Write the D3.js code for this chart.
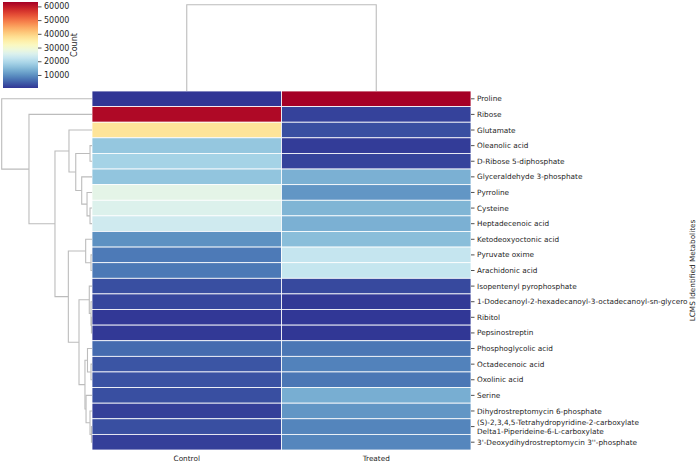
<!DOCTYPE html>
<html><head><meta charset="utf-8">
<script src="https://cdn.jsdelivr.net/npm/d3@7"></script>
<style>body{margin:0;background:#fff}svg{display:block;font-family:"DejaVu Sans",sans-serif}</style>
</head><body><svg id="c" width="700" height="464"></svg>
<script>
const columns = ["Control","Treated"];
const rowLabels = ["Proline","Ribose","Glutamate","Oleanolic acid","D-Ribose 5-diphosphate","Glyceraldehyde 3-phosphate","Pyrroline","Cysteine","Heptadecenoic acid","Ketodeoxyoctonic acid","Pyruvate oxime","Arachidonic acid","Isopentenyl pyrophosphate","1-Dodecanoyl-2-hexadecanoyl-3-octadecanoyl-sn-glycero","Ribitol","Pepsinostreptin","Phosphoglycolic acid","Octadecenoic acid","Oxolinic acid","Serine","Dihydrostreptomycin 6-phosphate","(S)-2,3,4,5-Tetrahydropyridine-2-carboxylate\nDelta1-Piperideine-6-L-carboxylate","3'-Deoxydihydrostreptomycin 3''-phosphate"];
const controlValues = [500,62000,36900,16800,18700,16500,26800,25600,23700,9900,7400,7300,3000,2100,700,800,5800,3600,3300,3000,1400,3000,1400];
const treatedValues = [63200,1700,3000,1100,1750,13700,10500,14300,13700,15500,22400,22500,2400,800,620,560,7100,8300,7100,13400,10500,8600,8700];
const colorbarTicks = [10000,20000,30000,40000,50000,60000];
// row dendrogram: [height, left, right]; leaves are row indices
const rowTree = [1.0, 0, [0.698, 1, [0.41,
  [0.255, 2, [0.18, [0.022, 3, 4], [0.114, 5, [0.055, 6, [0.022, 7, 8]]]]],
  [0.262, [0.07, 9, [0.011, 10, 11]],
    [0.144, [0.03, 12, [0.011, 13, [0.006, 14, 15]]],
      [0.078, [0.05, 16, [0.011, 17, 18]], [0.066, 19, [0.022, 20, [0.006, 21, 22]]]]]]]]];
const colTree = [1.0, 0, 1];

const svg = d3.select("#c");
const hm = {x0: 92, x1: 471, y0: 91, y1: 450};
const x = d3.scaleBand().domain(columns).range([hm.x0, hm.x1]);
const y = d3.scaleBand().domain(rowLabels).range([hm.y0, hm.y1]);
const all = controlValues.concat(treatedValues);
const vmin = d3.min(all), vmax = d3.max(all);
const color = d3.scaleSequential(t => d3.interpolateRdYlBu(1 - t)).domain([vmin, vmax]);

const cells = [];
rowLabels.forEach((r, i) => {
  cells.push({r, c: "Control", v: controlValues[i]});
  cells.push({r, c: "Treated", v: treatedValues[i]});
});
svg.append("g").selectAll("rect").data(cells).join("rect")
  .attr("x", d => x(d.c)).attr("y", d => y(d.r))
  .attr("width", x.bandwidth()).attr("height", y.bandwidth())
  .attr("fill", d => color(d.v)).attr("stroke", "#fff").attr("stroke-width", 0.8);

// row labels
const rl = svg.append("g").attr("font-size", 7.3).attr("fill", "#262626");
rowLabels.forEach(r => {
  const cy = y(r) + y.bandwidth() / 2;
  rl.append("line").attr("x1", hm.x1).attr("x2", hm.x1 + 3.5).attr("y1", cy).attr("y2", cy).attr("stroke", "#262626").attr("stroke-width", 0.8);
  const lines = r.split("\n");
  const t = rl.append("text").attr("x", hm.x1 + 6).attr("y", cy);
  lines.forEach((ln, k) => {
    t.append("tspan").attr("x", hm.x1 + 6)
      .attr("dy", k === 0 ? ((-(lines.length - 1) / 2) * 1.2 + 0.35) + "em" : "1.2em").text(ln);
  });
});
svg.append("text").attr("transform", `translate(695,${(hm.y0 + hm.y1) / 2}) rotate(-90)`)
  .attr("text-anchor", "middle").attr("font-size", 7.3).attr("fill", "#262626").text("LCMS Identified Metabolites");
// column labels
columns.forEach(c => {
  svg.append("text").attr("x", x(c) + x.bandwidth() / 2).attr("y", 461)
    .attr("text-anchor", "middle").attr("font-size", 7.3).attr("fill", "#262626").text(c);
});

// dendrograms
const lineColor = "#bcbcbc";
function layout(node, pos) {
  if (typeof node === "number") return {h: 0, p: pos(node)};
  const a = layout(node[1], pos), b = layout(node[2], pos);
  return {h: node[0], p: (a.p + b.p) / 2, a, b};
}
function segs(n, out) {
  if (!n.a) return out;
  out.push([n.a, n.b, n.h]);
  segs(n.a, out); segs(n.b, out);
  return out;
}
const rowRoot = layout(rowTree, i => y(rowLabels[i]) + y.bandwidth() / 2);
const dx = d3.scaleLinear().domain([0, rowTree[0]]).range([hm.x0, 1.7]);
svg.append("g").selectAll("path").data(segs(rowRoot, [])).join("path")
  .attr("d", ([a, b, h]) => `M${dx(a.h)},${a.p}H${dx(h)}V${b.p}H${dx(b.h)}`)
  .attr("fill", "none").attr("stroke", lineColor).attr("stroke-width", 1.1);
const colRoot = layout(colTree, i => x(columns[i]) + x.bandwidth() / 2);
const dy = d3.scaleLinear().domain([0, colTree[0]]).range([hm.y0, 4.7]);
svg.append("g").selectAll("path").data(segs(colRoot, [])).join("path")
  .attr("d", ([a, b, h]) => `M${a.p},${dy(a.h)}V${dy(h)}H${b.p}V${dy(b.h)}`)
  .attr("fill", "none").attr("stroke", lineColor).attr("stroke-width", 1.1);

// colorbar
const cb = {x: 3, w: 35, y0: 88, y1: 2};
const cy = d3.scaleLinear().domain([vmin, vmax]).range([cb.y0, cb.y1]);
const defs = svg.append("defs");
const grad = defs.append("linearGradient").attr("id", "cbg").attr("x1", 0).attr("x2", 0).attr("y1", 1).attr("y2", 0);
d3.range(0, 1.0001, 0.05).forEach(t => grad.append("stop").attr("offset", t).attr("stop-color", d3.interpolateRdYlBu(1 - t)));
svg.append("rect").attr("x", cb.x).attr("y", cb.y1).attr("width", cb.w).attr("height", cb.y0 - cb.y1).attr("fill", "url(#cbg)");
const ax = svg.append("g").attr("transform", `translate(${cb.x + cb.w},0)`)
  .call(d3.axisRight(cy).tickValues(colorbarTicks).tickFormat(d3.format("d")).tickSize(3.5).tickPadding(2.5));
ax.select(".domain").remove();
ax.selectAll("line").attr("stroke", "#262626").attr("stroke-width", 0.8);
ax.selectAll("text").attr("font-size", 8).attr("fill", "#262626").attr("font-family", "DejaVu Sans");
svg.append("text").attr("transform", `translate(77,${(cb.y0 + cb.y1) / 2}) rotate(-90)`)
  .attr("text-anchor", "middle").attr("font-size", 8).attr("fill", "#262626").text("Count");
</script></body></html>
